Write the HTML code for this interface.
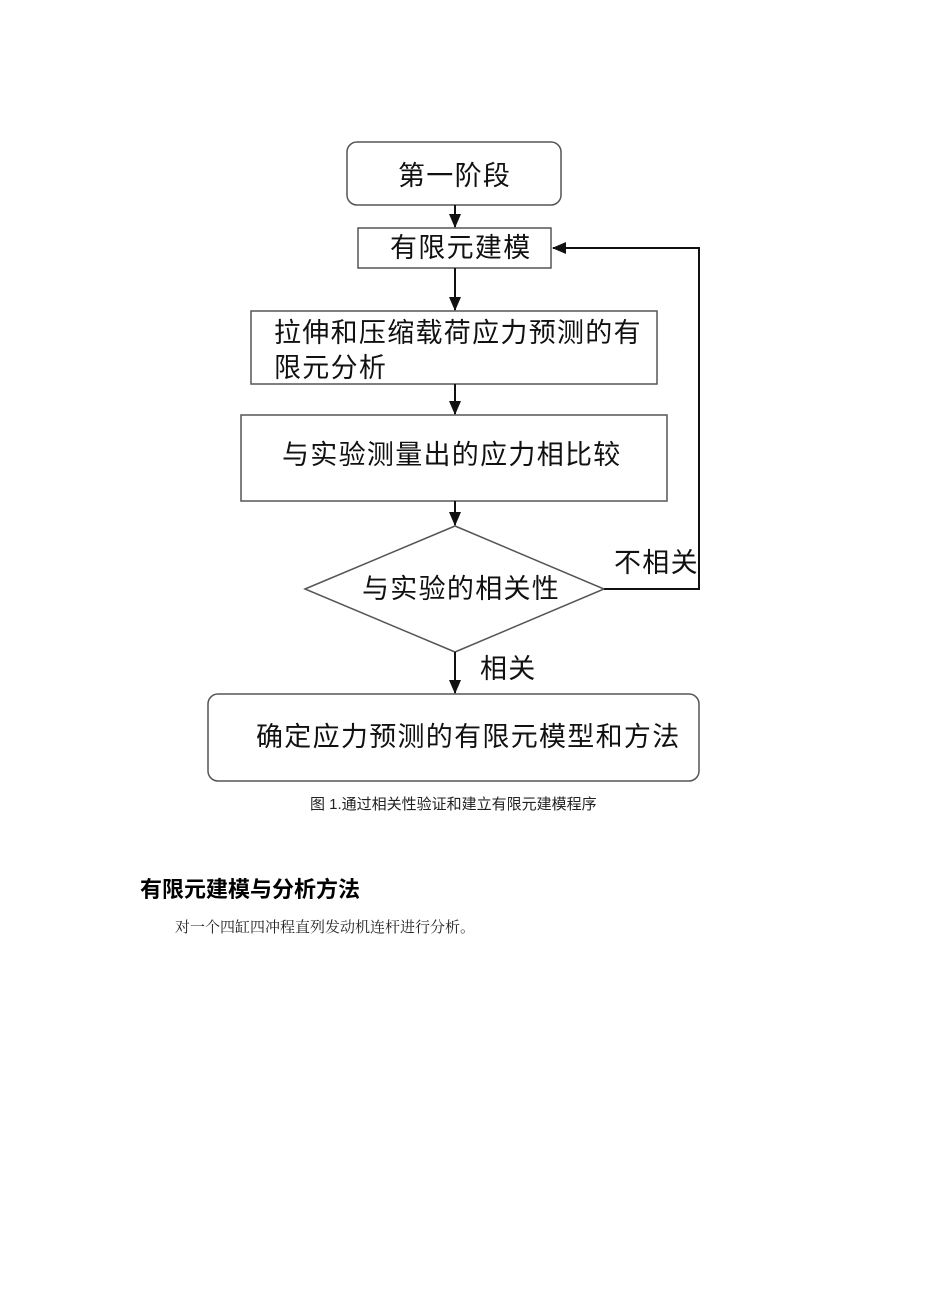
<!DOCTYPE html>
<html><head><meta charset="utf-8"><style>
body{margin:0;background:#fff;width:926px;height:1309px;position:relative;font-family:"Liberation Sans","Noto Sans CJK SC",sans-serif;}
svg{position:absolute;left:0;top:0}
.t{font-family:"Liberation Sans","Noto Sans CJK SC",sans-serif;fill:#111;font-size:27px;letter-spacing:1.3px}
</style></head><body>
<svg width="926" height="1309" viewBox="0 0 926 1309">
<defs>
<marker id="b" markerWidth="14" markerHeight="14" refX="13" refY="7" orient="auto" markerUnits="userSpaceOnUse"><path d="M0,1 L14,7 L0,13 z" fill="#111"/></marker></defs>
<g fill="none" stroke="#555" stroke-width="1.5">
<rect x="347" y="142" width="214" height="63" rx="10"/>
<rect x="358" y="228" width="193" height="40"/>
<rect x="251" y="311" width="406" height="73"/>
<rect x="241" y="415" width="426" height="86"/>
<polygon points="305,589 455,526 604,589 455,652"/>
<rect x="208" y="694" width="491" height="87" rx="10"/>
</g>
<g stroke="#111" stroke-width="2" fill="none">
<line x1="455" y1="205" x2="455" y2="227" marker-end="url(#b)"/>
<line x1="455" y1="268" x2="455" y2="310" marker-end="url(#b)"/>
<line x1="455" y1="384" x2="455" y2="414" marker-end="url(#b)"/>
<line x1="455" y1="501" x2="455" y2="525" marker-end="url(#b)"/>
<line x1="455" y1="652" x2="455" y2="693" marker-end="url(#b)"/>
<polyline points="604,589 699,589 699,248 553,248" marker-end="url(#b)"/>
</g>
<text class="t" x="398" y="185">第一阶段</text>
<text class="t" x="390" y="257">有限元建模</text>
<text class="t" x="274" y="342">拉伸和压缩载荷应力预测的有</text>
<text class="t" x="274" y="377">限元分析</text>
<text class="t" x="282" y="464">与实验测量出的应力相比较</text>
<text class="t" x="362" y="598">与实验的相关性</text>
<text class="t" x="614" y="572">不相关</text>
<text class="t" x="480" y="678">相关</text>
<text class="t" x="256" y="746">确定应力预测的有限元模型和方法</text>
<text x="310" y="809" style="font-family:'Liberation Sans','Noto Sans CJK SC',sans-serif;font-size:15px" fill="#222">图 1.通过相关性验证和建立有限元建模程序</text>
<text x="140" y="897" style="font-family:'Liberation Sans','Noto Sans CJK SC',sans-serif;font-size:22px;font-weight:bold" fill="#000">有限元建模与分析方法</text>
<text x="175" y="932" style="font-family:'Liberation Serif','Noto Serif CJK SC',serif;font-size:15px" fill="#222">对一个四缸四冲程直列发动机连杆进行分析。</text>
</svg>
</body></html>
